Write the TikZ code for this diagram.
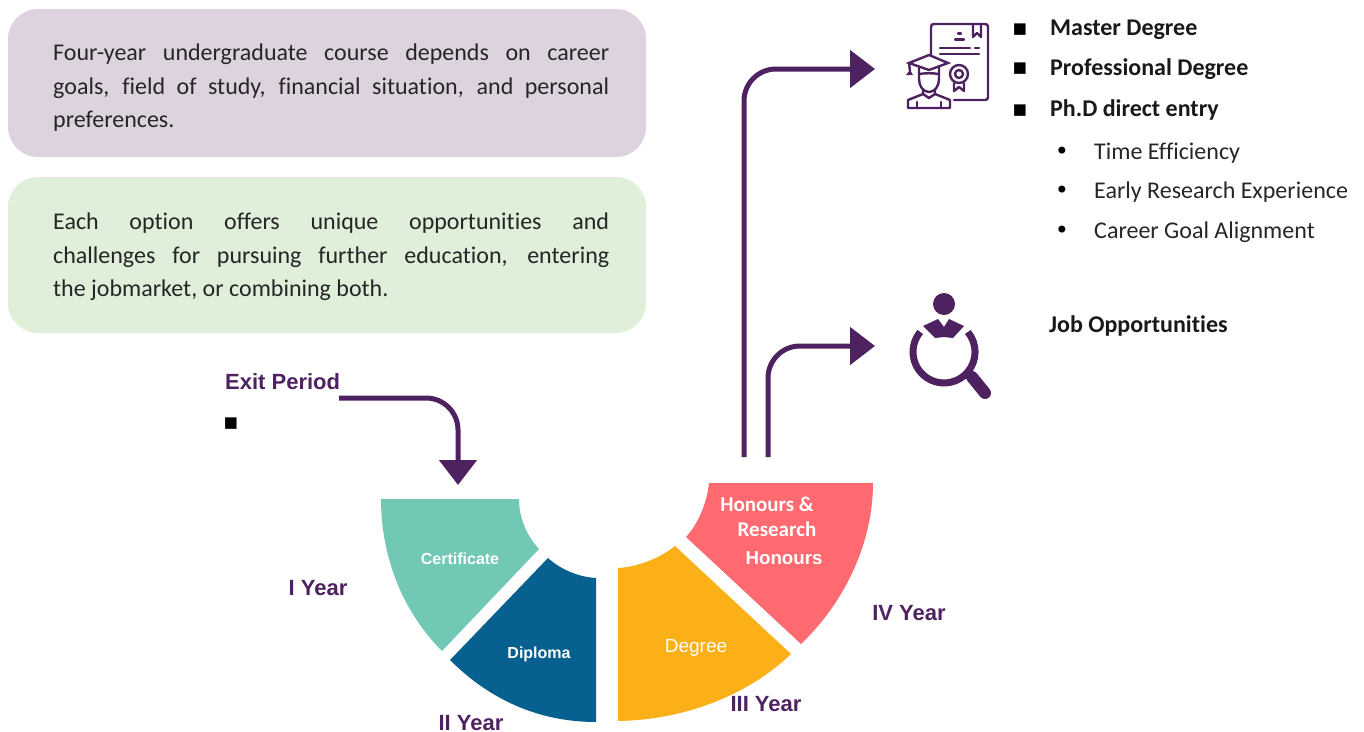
\documentclass[tikz,border=0pt]{standalone}
\usepackage{fontspec}
\setmainfont{Carlito}[Ligatures=CommonOff]
\newfontfamily\arialf{Liberation Sans}
\newfontfamily\symf{DejaVu Sans}
\usetikzlibrary{arrows.meta}
\definecolor{purp}{HTML}{4E2260}
\definecolor{lilac}{HTML}{DDD3DF}
\definecolor{mint}{HTML}{DFEFD9}
\definecolor{teal1}{HTML}{70C8B5}
\definecolor{blue1}{HTML}{086091}
\definecolor{orange1}{HTML}{FCB018}
\definecolor{red1}{HTML}{FF6A70}
\tikzset{
  panel/.style={rounded corners=30pt},
  para/.style={anchor=north west,inner sep=0pt,text width=556pt,align=justify,font=\fontsize{24}{33.5}\selectfont,text=black!85},
  flow/.style={draw=purp,line width=5pt,rounded corners=32pt,-{Triangle[length=25pt,width=37pt]}},
  yearlab/.style={font=\arialf\bfseries\fontsize{22}{24}\selectfont,text=purp,inner sep=0pt},
  seglab/.style={font=\arialf\bfseries\fontsize{16}{18}\selectfont,text=white,inner sep=0pt},
  hlab/.style={font=\bfseries\fontsize{21}{24}\selectfont,text=white,inner sep=0pt},
  head/.style={anchor=west,font=\bfseries\fontsize{24}{26}\selectfont,inner sep=0pt,text=black!90},
  sub/.style={anchor=west,font=\fontsize{24}{27}\selectfont,inner sep=0pt,text=black!85},
  sq/.style={font=\symf\fontsize{15}{15}\selectfont,inner sep=0pt},
  dot/.style={font=\symf\fontsize{24}{24}\selectfont,inner sep=0pt},
  ico/.style={draw=purp,line width=2.4pt,line cap=round,line join=round},
}
\begin{document}
\begin{tikzpicture}[x=1pt,y=-1pt]
\useasboundingbox (0,0) rectangle (1364,731);
% panels
\fill[lilac,panel] (8,9) rectangle (646,157);
\fill[mint,panel] (8,177) rectangle (646,333);
\node[para] (p1) at (53,44) {Four-year undergraduate course depends on career\linebreak goals, field of study, financial situation, and personal\linebreak preferences.};
\node[para] (p2) at (53,213) {Each option offers unique opportunities and\linebreak challenges for pursuing further education, entering\linebreak the jobmarket, or combining both.};
% wedges
\fill[teal1] (381,499) -- (519,499) .. controls (519,517) and (526,535) .. (539,549) -- (442,651) .. controls (402,611) and (381,556) .. (381,499) -- cycle;
\fill[blue1] (548,558) .. controls (560,569) and (578,577) .. (596,578) -- (596,722) .. controls (538,722) and (489,699) .. (450,660) -- cycle;
\fill[orange1] (618,568) .. controls (638,567) and (660,558) .. (675,546) -- (791,654) .. controls (745,698) and (680,720) .. (618,721) -- cycle;
\fill[red1] (709,483) -- (873,483) .. controls (873,540) and (847,600) .. (801,644) -- (686,537) .. controls (698,524) and (707,503) .. (709,483) -- cycle;
% wedge labels
\node[seglab] (cert) at (460,558.5) {Certificate};
\node[seglab] (dipl) at (539,654) {Diploma};
\node[seglab,font=\arialf\fontsize{19}{20}\selectfont] (degr) at (696,648) {Degree};
\node[hlab] (hon1) at (767,504) {Honours \&};
\node[hlab] (hon2) at (777,529) {Research};
\node[seglab,font=\arialf\bfseries\fontsize{18.7}{20}\selectfont] (hon3) at (784,558) {Honours};
% year labels
\node[yearlab] (y1) at (318,588) {I Year};
\node[yearlab] (y2) at (471,723) {II Year};
\node[yearlab] (y3) at (766,704) {III Year};
\node[yearlab] (y4) at (909,613) {IV Year};
\node[yearlab,anchor=west] (exit) at (225,382) {Exit Period};
\node[sq] (sq0) at (231,424) {■};
% connectors
\coordinate (a1s) at (339,398);
\coordinate (a1e) at (458,485);
\coordinate (a2s) at (744,457);
\coordinate (a2e) at (875,69);
\coordinate (a3s) at (768,457);
\coordinate (a3e) at (875,346);
\draw[flow] (a1s) -| (a1e);
\draw[flow] (a2s) |- (a2e);
\draw[flow] (a3s) |- (a3e);
% right texts
\node[sq] (s1) at (1020,30) {■};
\node[sq] (s2) at (1020,69) {■};
\node[sq] (s3) at (1020,111) {■};
\node[head] (t1) at (1050,30) {Master Degree};
\node[head] (t2) at (1050,69) {Professional Degree};
\node[head] (t3) at (1050,110) {Ph.D direct entry};
\node[dot] (d1) at (1062,153) {•};
\node[dot] (d2) at (1062,192) {•};
\node[dot] (d3) at (1062,232) {•};
\node[sub] (u1) at (1094,153) {Time Efficiency};
\node[sub] (u2) at (1094,192) {Early Research Experience};
\node[sub] (u3) at (1094,232) {Career Goal Alignment};
\node[head] (t4) at (1049,326) {Job Opportunities};
% certificate icon
\draw[ico] (931,55) -- (931,27) .. controls (931,25) and (932,24) .. (934,24) -- (985,24) .. controls (987,24) and (988,25) .. (988,27) -- (988,97) .. controls (988,99) and (987,100) .. (985,100) -- (954,100);
\draw[ico] (973,24) -- (973,37) -- (977,33) -- (981,37) -- (981,24);
\draw[ico] (958,33.5) -- (961,33.5) (955,39.5) -- (964,39.5) (940,48) -- (970,48) (975,48) -- (979,48) (940,54) -- (979,54);
\draw[ico] (959,74) circle (9);
\draw[ico] (959,74) circle (4);
\draw[ico] (954,83) -- (954,91) -- (959,87) -- (964,91) -- (964,83);
\draw[ico,line join=miter] (909,63) -- (929,55) -- (948,63) -- (929,70) -- cycle;
\draw[ico] (909,63) -- (910,71);
\fill[purp] (910,70) -- (913,75) -- (906,75) -- cycle;
\draw[ico] (919,67) -- (919,79) .. controls (919,86) and (923,92) .. (929,92) .. controls (935,92) and (939,86) .. (939,79) -- (939,67);
\draw[ico] (919,74) .. controls (926,73) and (932,73) .. (939,74);
\draw[ico] (923,90) -- (923,94) -- (908,100) -- (908,108) -- (950,108) -- (950,100) -- (935,94) -- (935,90);
\draw[ico] (923,94) -- (929,98) -- (935,94);
\draw[ico] (917,108) -- (917,102) (941,108) -- (941,102);
% job icon
\fill[purp] (944,304) circle (11);
\fill[purp] (923,326) -- (938,319) -- (944,327) -- (949,319) -- (964,326) -- (953,338) -- (944,337) -- (935,338) -- cycle;
\draw[purp,line width=7pt] (920.3,332) arc[start angle=140,end angle=400,radius=31pt];
\draw[purp,line width=12pt,line cap=round] (972,377) -- (985,393);
\end{tikzpicture}
\end{document}
